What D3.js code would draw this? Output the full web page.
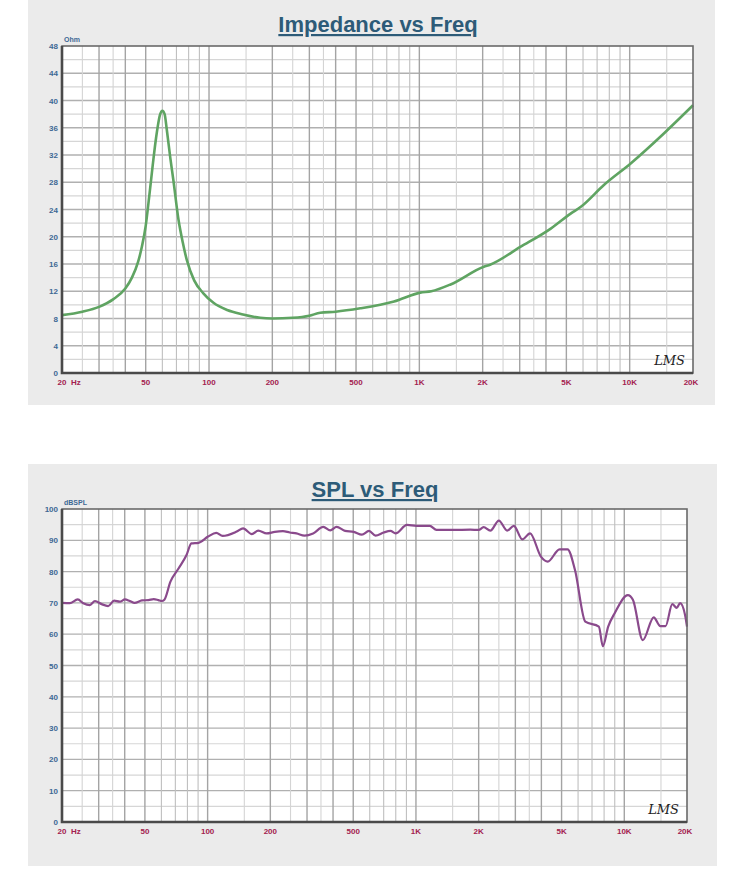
<!DOCTYPE html>
<html lang="en">
<head>
<meta charset="UTF-8">
<title>Impedance / SPL vs Freq</title>
<script src="https://d3js.org/d3.v7.min.js"></script>
<style>
  body { margin: 0; background: #fff; }
  svg { display: block; }
</style>
</head>
<body>
<svg id="chart" width="750" height="869"></svg>
<script>
// x axis (shared)
const xTickValues = [20, 50, 100, 200, 500, 1000, 2000, 5000, 10000, 20000];
const xTickLabels = ["20", "50", "100", "200", "500", "1K", "2K", "5K", "10K", "20K"];
const gridMultipliers = [1, 1.5, 2, 2.5, 3, 3.5, 4, 5, 6, 7, 8, 9];
const gridDecades = [10, 100, 1000, 10000];

// impedance curve
const impTicks = [0, 4, 8, 12, 16, 20, 24, 28, 32, 36, 40, 44, 48];
const impFreq = [20, 25, 30, 35, 40, 43, 46, 48, 50, 52, 54, 56, 58.6, 60, 61.5, 63, 65.5, 67.7, 71.6, 75, 78.4, 85, 94, 105, 122, 145, 175, 200, 250, 300, 338, 400, 524, 758, 1010, 1140, 1408, 2026, 2170, 3020, 4215, 5240, 5860, 7540, 10140, 14580, 20000];
const impOhm = [8.5, 9.0, 9.7, 10.8, 12.4, 14.0, 16.3, 18.6, 21.6, 26.0, 30.5, 34.5, 38.0, 38.5, 38.0, 35.7, 31.5, 28.3, 22.5, 19.2, 16.6, 13.6, 11.7, 10.3, 9.25, 8.6, 8.1, 8.0, 8.1, 8.4, 8.85, 9.0, 9.5, 10.5, 11.8, 12.0, 13.0, 15.6, 15.9, 18.5, 21.2, 23.4, 24.4, 27.6, 30.8, 35.2, 39.3];

// SPL curve
const splTicks = [0, 10, 20, 30, 40, 50, 60, 70, 80, 90, 100];
const splFreq = [20, 21.8, 23.8, 25.3, 27.2, 28.8, 31, 33.3, 35.6, 37.9, 40.1, 42.3, 44.6, 48.4, 52, 55.1, 58, 60.3, 62, 66.3, 72.5, 79.2, 83.6, 90.4, 100.5, 110, 118, 138, 148, 163, 175, 192, 210, 230, 248, 267, 292, 321, 359, 388, 416, 457, 503, 550, 595, 640, 700, 755, 798, 905, 1005, 1165, 1255, 1515, 1822, 2000, 2112, 2275, 2500, 2740, 2950, 3240, 3530, 3980, 4290, 4890, 5340, 5800, 6500, 7550, 7890, 8370, 8990, 10400, 11000, 12270, 13840, 14900, 15780, 17000, 17850, 18530, 19600, 20000];
const splDb = [70.0, 69.9, 71.1, 69.9, 69.3, 70.6, 69.6, 69.0, 70.7, 70.4, 71.1, 70.6, 70.0, 70.8, 70.9, 71.2, 70.9, 70.6, 71.0, 76.8, 81.0, 85.3, 89.0, 89.2, 91.2, 92.4, 91.4, 92.8, 93.8, 92.0, 93.1, 92.2, 92.7, 92.9, 92.5, 92.2, 91.5, 92.2, 94.3, 93.2, 94.3, 93.0, 92.7, 91.8, 93.0, 91.5, 92.5, 93.0, 92.2, 94.9, 94.6, 94.6, 93.3, 93.3, 93.4, 93.3, 94.2, 93.1, 96.3, 93.1, 94.6, 90.3, 92.2, 84.8, 83.2, 87.1, 87.1, 80.5, 64.0, 62.4, 56.2, 62.4, 66.7, 72.5, 71.0, 58.1, 65.4, 62.6, 62.6, 69.6, 68.4, 69.9, 66.0, 62.4];

const svg = d3.select("#chart");
const tickFont = "'Liberation Sans Narrow', 'Arial Narrow', sans-serif";

function drawPanel(opt) {
  // grey panel
  svg.append("rect").attr("x", opt.panel[0]).attr("y", opt.panel[1])
    .attr("width", opt.panel[2]).attr("height", opt.panel[3]).attr("fill", "#ebebeb");

  // title
  svg.append("text").attr("x", opt.titleX).attr("y", opt.titleY)
    .attr("text-anchor", "middle")
    .style("font-family", tickFont).style("font-weight", "bold")
    .style("font-size", "22px").style("fill", "#2d5b78")
    .style("text-decoration", "underline")
    .text(opt.title);

  const x = d3.scaleLog().domain([20, 20000]).range([opt.left, opt.right]);
  const y = d3.scaleLinear().domain([0, opt.yMax]).range([opt.bottom, opt.top]);

  const g = svg.append("g");
  g.append("rect").attr("x", opt.left).attr("y", opt.top)
    .attr("width", opt.right - opt.left).attr("height", opt.bottom - opt.top)
    .attr("fill", "#fff");

  // horizontal grid: minor then major
  const half = opt.yStep / 2;
  const minorY = d3.range(half, opt.yMax, opt.yStep);
  g.selectAll(".hminor").data(minorY).enter().append("line")
    .attr("x1", opt.left).attr("x2", opt.right)
    .attr("y1", d => y(d)).attr("y2", d => y(d))
    .attr("stroke", "#d6d6d6").attr("stroke-width", 1.2);
  g.selectAll(".hmajor").data(opt.yTicks.slice(1, -1)).enter().append("line")
    .attr("x1", opt.left).attr("x2", opt.right)
    .attr("y1", d => y(d)).attr("y2", d => y(d))
    .attr("stroke", "#b0b0b0").attr("stroke-width", 1.3);

  // vertical grid
  const vLines = [];
  gridDecades.forEach(dec => gridMultipliers.forEach(m => {
    const f = dec * m;
    if (f > 20 && f < 20000) vLines.push({ f, m });
  }));
  const strong = [1, 2, 3, 4, 5];
  const faint = [1.5, 2.5, 3.5];
  g.selectAll(".vgrid").data(vLines).enter().append("line")
    .attr("x1", d => x(d.f)).attr("x2", d => x(d.f))
    .attr("y1", opt.top).attr("y2", opt.bottom)
    .attr("stroke", d => strong.includes(d.m) ? "#a4a4a4" : (faint.includes(d.m) ? "#d4d4d4" : "#bfbfbf"))
    .attr("stroke-width", d => strong.includes(d.m) ? 1.4 : 1.1);

  // curve
  const line = d3.line()
    .x((d, i) => x(opt.freq[i]))
    .y(d => y(d))
    .curve(d3.curveMonotoneX);
  g.append("path").datum(opt.values)
    .attr("d", line).attr("fill", "none")
    .attr("stroke", opt.color).attr("stroke-width", opt.lineWidth)
    .attr("stroke-linejoin", "round");

  // frame
  g.append("rect").attr("x", opt.left).attr("y", opt.top)
    .attr("width", opt.right - opt.left).attr("height", opt.bottom - opt.top)
    .attr("fill", "none").attr("stroke", "#6a6a6a").attr("stroke-width", 1.6);
  g.append("path")
    .attr("d", `M${opt.left},${opt.top}V${opt.bottom}H${opt.right}`)
    .attr("fill", "none").attr("stroke", "#4a4a4a").attr("stroke-width", 2.6);

  // y tick labels
  g.selectAll(".ylab").data(opt.yTicks).enter().append("text")
    .attr("x", opt.left - 4).attr("y", d => y(d) + 3)
    .attr("text-anchor", "end")
    .style("font-family", tickFont).style("font-weight", "bold")
    .style("font-size", "8px").style("fill", "#3d6894")
    .text(d => d);
  g.append("text").attr("x", opt.left + 2).attr("y", opt.top - 4)
    .style("font-family", tickFont).style("font-weight", "bold")
    .style("font-size", "7px").style("fill", "#3d6894")
    .text(opt.unit);

  // x tick labels
  g.selectAll(".xlab").data(xTickValues).enter().append("text")
    .attr("x", (d, i) => x(d) + (i === xTickValues.length - 1 ? -2 : 0))
    .attr("y", opt.bottom + 12)
    .attr("text-anchor", "middle")
    .style("font-family", tickFont).style("font-weight", "bold")
    .style("font-size", "8px").style("fill", "#a3214f")
    .text((d, i) => xTickLabels[i]);
  g.append("text").attr("x", x(20) + 9).attr("y", opt.bottom + 12)
    .style("font-family", tickFont).style("font-weight", "bold")
    .style("font-size", "8px").style("fill", "#a3214f")
    .text("Hz");

  // LMS mark
  g.append("text").attr("x", opt.right - 8).attr("y", opt.bottom - 8)
    .attr("text-anchor", "end")
    .style("font-family", "'DejaVu Serif', serif").style("font-style", "italic")
    .style("font-size", "13px").style("fill", "#222")
    .text("LMS");
}

drawPanel({
  panel: [28, 0, 687, 405],
  title: "Impedance vs Freq", titleX: 378, titleY: 32,
  left: 62, right: 693, top: 46, bottom: 373,
  yMax: 48, yStep: 4, yTicks: impTicks, unit: "Ohm",
  freq: impFreq, values: impOhm, color: "#5fa462", lineWidth: 2.6
});

drawPanel({
  panel: [28, 464, 689, 402],
  title: "SPL vs Freq", titleX: 375, titleY: 497,
  left: 62, right: 687, top: 509, bottom: 822,
  yMax: 100, yStep: 10, yTicks: splTicks, unit: "dBSPL",
  freq: splFreq, values: splDb, color: "#8a4a8c", lineWidth: 2.2
});
</script>
</body>
</html>
